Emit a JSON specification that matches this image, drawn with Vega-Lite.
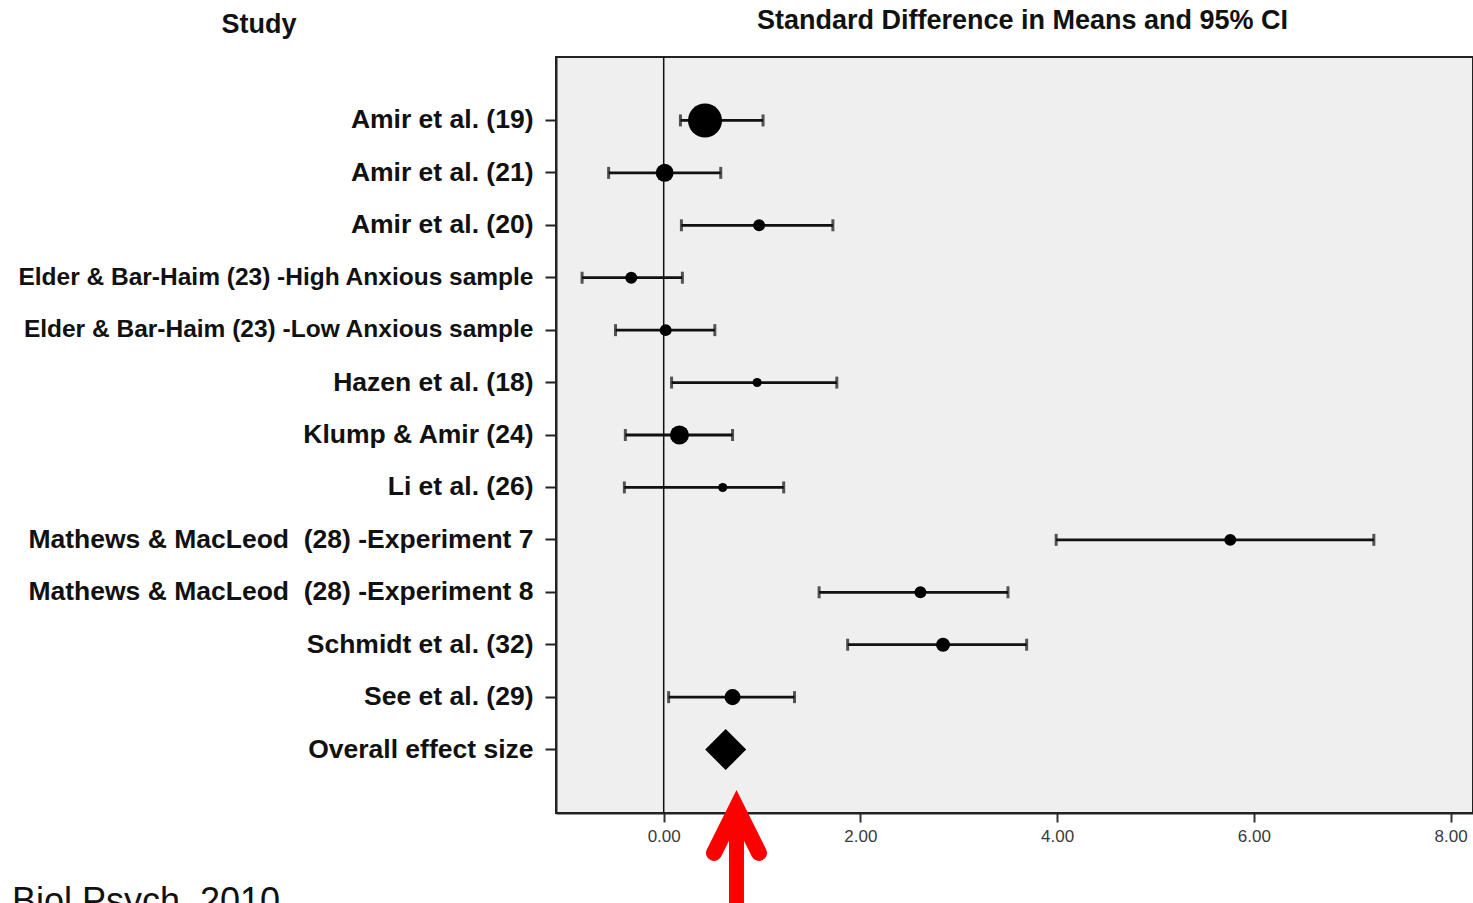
{
  "$schema": "https://vega.github.io/schema/vega-lite/v6.json",
  "autosize": {"type": "none"},
  "padding": {"left": 556, "top": 57, "right": 0, "bottom": 90},
  "width": 917,
  "height": 756,
  "background": "white",
  "config": {
    "font": "Liberation Sans",
    "view": {"fill": "#efefef", "stroke": "#222222", "strokeWidth": 2}
  },
  "datasets": {
    "studies": [
      {"study": "Amir et al. (19)", "es": 0.42, "lo": 0.17, "hi": 1.01, "weight": 36.4, "type": "study"},
      {"study": "Amir et al. (21)", "es": 0.01, "lo": -0.56, "hi": 0.58, "weight": 10.2, "type": "study"},
      {"study": "Amir et al. (20)", "es": 0.97, "lo": 0.18, "hi": 1.72, "weight": 4.5, "type": "study"},
      {"study": "Elder & Bar-Haim (23) -High Anxious sample", "es": -0.33, "lo": -0.83, "hi": 0.19, "weight": 4.5, "type": "study"},
      {"study": "Elder & Bar-Haim (23) -Low Anxious sample", "es": 0.02, "lo": -0.49, "hi": 0.52, "weight": 4.5, "type": "study"},
      {"study": "Hazen et al. (18)", "es": 0.95, "lo": 0.08, "hi": 1.76, "weight": 2.6, "type": "study"},
      {"study": "Klump & Amir (24)", "es": 0.16, "lo": -0.39, "hi": 0.70, "weight": 11.4, "type": "study"},
      {"study": "Li et al. (26)", "es": 0.60, "lo": -0.40, "hi": 1.22, "weight": 2.6, "type": "study"},
      {"study": "Mathews & MacLeod\u00a0 (28) -Experiment 7", "es": 5.76, "lo": 3.99, "hi": 7.22, "weight": 4.5, "type": "study"},
      {"study": "Mathews & MacLeod\u00a0 (28) -Experiment 8", "es": 2.61, "lo": 1.58, "hi": 3.50, "weight": 4.5, "type": "study"},
      {"study": "Schmidt et al. (32)", "es": 2.84, "lo": 1.87, "hi": 3.69, "weight": 6.2, "type": "study"},
      {"study": "See et al. (29)", "es": 0.70, "lo": 0.05, "hi": 1.33, "weight": 8.1, "type": "study"},
      {"study": "Overall effect size", "es": 0.63, "lo": null, "hi": null, "weight": null, "type": "summary"}
    ],
    "arrow": [
      {"x": 0.74, "top": 0.0066, "bottom": -0.13, "head": -0.0231}
    ],
    "source": [
      {"label": "Biol Psych, 2010", "x": -6.626, "y": -0.132}
    ]
  },
  "resolve": {"scale": {"y": "independent"}, "axis": {"y": "independent", "x": "independent"}},
  "layer": [
    {
      "data": {"name": "studies"},
      "transform": [{"filter": "datum.type === 'study'"}],
      "mark": {"type": "rule", "color": "#111111", "strokeWidth": 2.8},
      "encoding": {
        "x": {
          "field": "lo",
          "type": "quantitative",
          "scale": {"domain": [-1.095, 8.228], "nice": false, "zero": false},
          "axis": {
            "values": [0, 2, 4, 6, 8],
            "format": ".2f",
            "grid": false,
            "domain": true,
            "domainColor": "#222222",
            "domainWidth": 2,
            "ticks": true,
            "tickSize": 9,
            "tickWidth": 2,
            "tickColor": "#333333",
            "labelFontSize": 17,
            "labelColor": "#3a3a3a",
            "labelPadding": 6,
            "title": "Standard Difference in Means and 95% CI",
            "titleX": 466,
            "titleY": -785,
            "titleAlign": "center",
            "titleBaseline": "alphabetic",
            "titleFontSize": 27,
            "titleFontWeight": "bold",
            "titleColor": "#111111"
          }
        },
        "x2": {"field": "hi"},
        "y": {
          "field": "study",
          "type": "nominal",
          "sort": null,
          "scale": {
            "type": "band",
            "paddingInner": 0,
            "paddingOuter": 0.71,
            "domain": [
              "Amir et al. (19)", "Amir et al. (21)", "Amir et al. (20)",
              "Elder & Bar-Haim (23) -High Anxious sample",
              "Elder & Bar-Haim (23) -Low Anxious sample",
              "Hazen et al. (18)", "Klump & Amir (24)", "Li et al. (26)",
              "Mathews & MacLeod\u00a0 (28) -Experiment 7",
              "Mathews & MacLeod\u00a0 (28) -Experiment 8",
              "Schmidt et al. (32)", "See et al. (29)", "Overall effect size"
            ]
          },
          "axis": {
            "grid": false,
            "domain": true,
            "domainColor": "#222222",
            "domainWidth": 2,
            "ticks": true,
            "tickSize": 11,
            "tickWidth": 2,
            "tickColor": "#222222",
            "labelPadding": 12,
            "labelLimit": 700,
            "labelFontWeight": "bold",
            "labelColor": "#111111",
            "labelFontSize": {
              "condition": {"test": "indexof(datum.value, 'Elder') === 0", "value": 24.5},
              "value": 26.5
            },
            "title": "Study",
            "titleAngle": 0,
            "titleX": -297.5,
            "titleY": -25,
            "titleAlign": "center",
            "titleBaseline": "alphabetic",
            "titleFontSize": 27,
            "titleFontWeight": "bold",
            "titleColor": "#111111"
          }
        }
      }
    },
    {
      "data": {"values": [{"zero": 0}]},
      "mark": {"type": "rule", "color": "#111111", "strokeWidth": 1.5},
      "encoding": {
        "x": {"field": "zero", "type": "quantitative", "axis": null}
      }
    },
    {
      "data": {"name": "studies"},
      "transform": [{"filter": "datum.type === 'study'"}],
      "mark": {"type": "tick", "color": "#111111", "size": 12, "thickness": 3},
      "encoding": {
        "x": {"field": "lo", "type": "quantitative", "axis": null},
        "y": {
          "field": "study", "type": "nominal", "sort": null, "axis": null,
          "scale": {
            "type": "band",
            "paddingInner": 0,
            "paddingOuter": 0.71,
            "domain": [
              "Amir et al. (19)", "Amir et al. (21)", "Amir et al. (20)",
              "Elder & Bar-Haim (23) -High Anxious sample",
              "Elder & Bar-Haim (23) -Low Anxious sample",
              "Hazen et al. (18)", "Klump & Amir (24)", "Li et al. (26)",
              "Mathews & MacLeod\u00a0 (28) -Experiment 7",
              "Mathews & MacLeod\u00a0 (28) -Experiment 8",
              "Schmidt et al. (32)", "See et al. (29)", "Overall effect size"
            ]
          }
        }
      }
    },
    {
      "data": {"name": "studies"},
      "transform": [{"filter": "datum.type === 'study'"}],
      "mark": {"type": "tick", "color": "#111111", "size": 12, "thickness": 3},
      "encoding": {
        "x": {"field": "hi", "type": "quantitative", "axis": null},
        "y": {
          "field": "study", "type": "nominal", "sort": null, "axis": null,
          "scale": {
            "type": "band",
            "paddingInner": 0,
            "paddingOuter": 0.71,
            "domain": [
              "Amir et al. (19)", "Amir et al. (21)", "Amir et al. (20)",
              "Elder & Bar-Haim (23) -High Anxious sample",
              "Elder & Bar-Haim (23) -Low Anxious sample",
              "Hazen et al. (18)", "Klump & Amir (24)", "Li et al. (26)",
              "Mathews & MacLeod\u00a0 (28) -Experiment 7",
              "Mathews & MacLeod\u00a0 (28) -Experiment 8",
              "Schmidt et al. (32)", "See et al. (29)", "Overall effect size"
            ]
          }
        }
      }
    },
    {
      "data": {"name": "studies"},
      "transform": [{"filter": "datum.type === 'study'"}],
      "mark": {"type": "point", "shape": "circle", "filled": true, "color": "#000000", "opacity": 1},
      "encoding": {
        "x": {"field": "es", "type": "quantitative", "axis": null},
        "y": {
          "field": "study", "type": "nominal", "sort": null, "axis": null,
          "scale": {
            "type": "band",
            "paddingInner": 0,
            "paddingOuter": 0.71,
            "domain": [
              "Amir et al. (19)", "Amir et al. (21)", "Amir et al. (20)",
              "Elder & Bar-Haim (23) -High Anxious sample",
              "Elder & Bar-Haim (23) -Low Anxious sample",
              "Hazen et al. (18)", "Klump & Amir (24)", "Li et al. (26)",
              "Mathews & MacLeod\u00a0 (28) -Experiment 7",
              "Mathews & MacLeod\u00a0 (28) -Experiment 8",
              "Schmidt et al. (32)", "See et al. (29)", "Overall effect size"
            ]
          }
        },
        "size": {
          "field": "weight",
          "type": "quantitative",
          "scale": {"domain": [0, 36.4], "range": [0, 1156], "zero": true},
          "legend": null
        }
      }
    },
    {
      "data": {"name": "studies"},
      "transform": [{"filter": "datum.type === 'summary'"}],
      "mark": {"type": "point", "shape": "diamond", "filled": true, "color": "#000000", "opacity": 1, "size": 1681},
      "encoding": {
        "x": {"field": "es", "type": "quantitative", "axis": null},
        "y": {
          "field": "study", "type": "nominal", "sort": null, "axis": null,
          "scale": {
            "type": "band",
            "paddingInner": 0,
            "paddingOuter": 0.71,
            "domain": [
              "Amir et al. (19)", "Amir et al. (21)", "Amir et al. (20)",
              "Elder & Bar-Haim (23) -High Anxious sample",
              "Elder & Bar-Haim (23) -Low Anxious sample",
              "Hazen et al. (18)", "Klump & Amir (24)", "Li et al. (26)",
              "Mathews & MacLeod\u00a0 (28) -Experiment 7",
              "Mathews & MacLeod\u00a0 (28) -Experiment 8",
              "Schmidt et al. (32)", "See et al. (29)", "Overall effect size"
            ]
          }
        }
      }
    },
    {
      "data": {"name": "arrow"},
      "mark": {"type": "rule", "color": "#ff0000", "strokeWidth": 15, "clip": false},
      "encoding": {
        "x": {"field": "x", "type": "quantitative", "axis": null},
        "y": {
          "field": "top",
          "type": "quantitative",
          "scale": {"domain": [0, 1], "nice": false, "zero": false},
          "axis": null
        },
        "y2": {"field": "bottom"}
      }
    },
    {
      "data": {"name": "arrow"},
      "mark": {
        "type": "point",
        "shape": "M -1 1 L 0 -1 L 1 1",
        "size": 2025,
        "filled": false,
        "color": "#ff0000",
        "strokeWidth": 16,
        "strokeCap": "round",
        "strokeJoin": "miter",
        "opacity": 1,
        "clip": false
      },
      "encoding": {
        "x": {"field": "x", "type": "quantitative", "axis": null},
        "y": {
          "field": "head",
          "type": "quantitative",
          "scale": {"domain": [0, 1], "nice": false, "zero": false},
          "axis": null
        }
      }
    },
    {
      "data": {"name": "source"},
      "mark": {
        "type": "text",
        "align": "left",
        "baseline": "alphabetic",
        "fontSize": 36,
        "color": "#111111",
        "clip": false
      },
      "encoding": {
        "text": {"field": "label", "type": "nominal"},
        "x": {"field": "x", "type": "quantitative", "axis": null},
        "y": {
          "field": "y",
          "type": "quantitative",
          "scale": {"domain": [0, 1], "nice": false, "zero": false},
          "axis": null
        }
      }
    }
  ]
}
